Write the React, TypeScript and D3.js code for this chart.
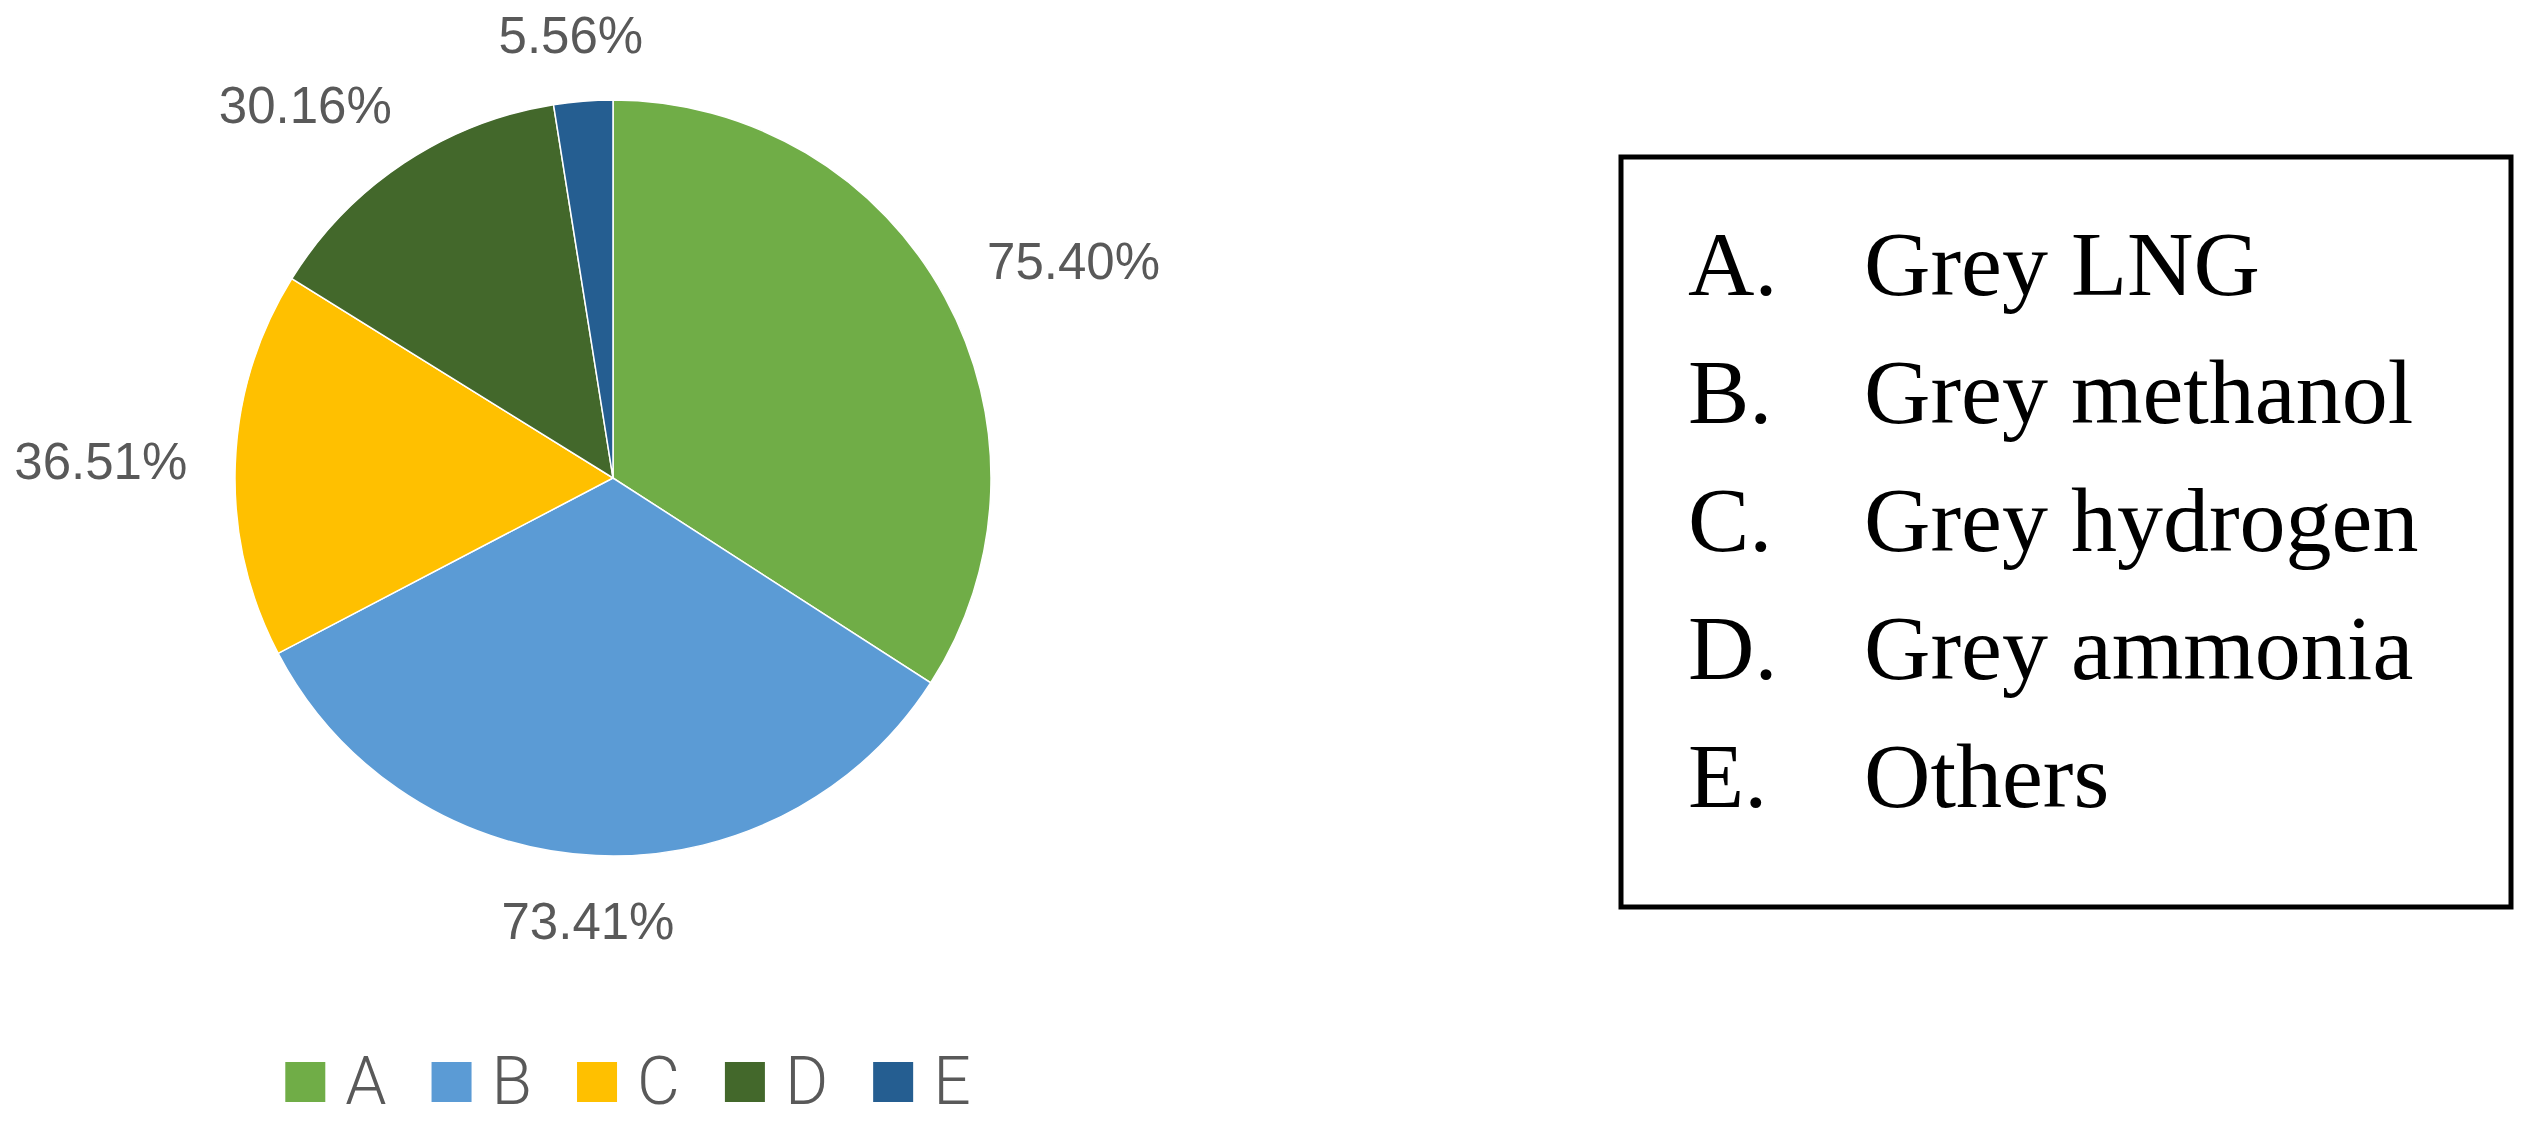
import * as d3 from "d3";
import { useEffect, useRef } from "react";

// values
const categories = ["A", "B", "C", "D", "E"];
const values = [75.4, 73.41, 36.51, 30.16, 5.56];
const colors = ["#70AD47", "#5B9BD5", "#FFC000", "#43682B", "#255E91"];
const legendNames = ["Grey LNG", "Grey methanol", "Grey hydrogen", "Grey ammonia", "Others"];

const App = () => {
  const svgRef = useRef<SVGSVGElement>(null);

  useEffect(() => {
    document.body.style.margin = "0";
    const svg = d3.select(svgRef.current);
    svg.selectAll("*").remove();

    const width = 2531;
    const height = 1124;
    const cx = 613;
    const cy = 478;
    const radius = 378;

    svg.append("rect").attr("width", width).attr("height", height).attr("fill", "white");

    const pie = d3.pie<number>().sort(null).value((d) => d);
    const arcs = pie(values);
    const arc = d3.arc<d3.PieArcDatum<number>>().innerRadius(0).outerRadius(radius);

    const g = svg.append("g").attr("transform", `translate(${cx},${cy})`);

    // slices
    g.selectAll("path")
      .data(arcs)
      .enter()
      .append("path")
      .attr("d", arc)
      .attr("fill", (d, i) => colors[i])
      .attr("stroke", "white")
      .attr("stroke-width", 1.5);

    // data labels, outside end
    const clamp = (v: number) => Math.max(-1, Math.min(1, v));
    arcs.forEach((a, i) => {
      const t = g
        .append("text")
        .text(values[i].toFixed(2) + "%")
        .attr("font-family", "'Liberation Sans', Arial, sans-serif")
        .attr("font-size", 51)
        .attr("fill", "#595959")
        .attr("text-anchor", "middle")
        .attr("dominant-baseline", "central");
      const w = (t.node() as SVGTextElement).getComputedTextLength();
      const mid = (a.startAngle + a.endAngle) / 2;
      const ux = Math.sin(mid);
      const uy = -Math.cos(mid);
      const d = radius + 48;
      const x = ux * d + (w / 2) * clamp(ux * 1.5);
      const y = uy * d + 18 * clamp(uy * 1.5);
      t.attr("x", x).attr("y", y);
    });

    // bottom legend
    const leg = svg.append("g");
    let x = 0;
    categories.forEach((c, i) => {
      leg.append("rect")
        .attr("x", x)
        .attr("y", 1062)
        .attr("width", 40)
        .attr("height", 40)
        .attr("fill", colors[i]);
      const t = leg
        .append("text")
        .attr("x", x + 60)
        .attr("y", 1104)
        .text(c)
        .attr("font-family", "Roboto, 'Liberation Sans', sans-serif")
        .attr("font-weight", 300)
        .attr("font-size", 66)
        .attr("fill", "#595959");
      const w = (t.node() as SVGTextElement).getComputedTextLength();
      x += 60 + w + 45;
    });
    const legW = x - 45;
    leg.attr("transform", `translate(${cx + 15 - legW / 2},0)`);

    // boxed category names
    svg.append("rect")
      .attr("x", 1621)
      .attr("y", 157)
      .attr("width", 890)
      .attr("height", 750)
      .attr("fill", "none")
      .attr("stroke", "black")
      .attr("stroke-width", 5);

    categories.forEach((c, i) => {
      const y = 295 + i * 128;
      svg.append("text")
        .attr("x", 1688)
        .attr("y", y)
        .text(c + ".")
        .attr("font-family", "'Liberation Serif', 'Times New Roman', serif")
        .attr("font-size", 92)
        .attr("fill", "black");
      svg.append("text")
        .attr("x", 1864)
        .attr("y", y)
        .text(legendNames[i])
        .attr("font-family", "'Liberation Serif', 'Times New Roman', serif")
        .attr("font-size", 92)
        .attr("fill", "black");
    });
  }, []);

  return <svg ref={svgRef} width={2531} height={1124} style={{ display: "block" }}></svg>;
};

export default App;
